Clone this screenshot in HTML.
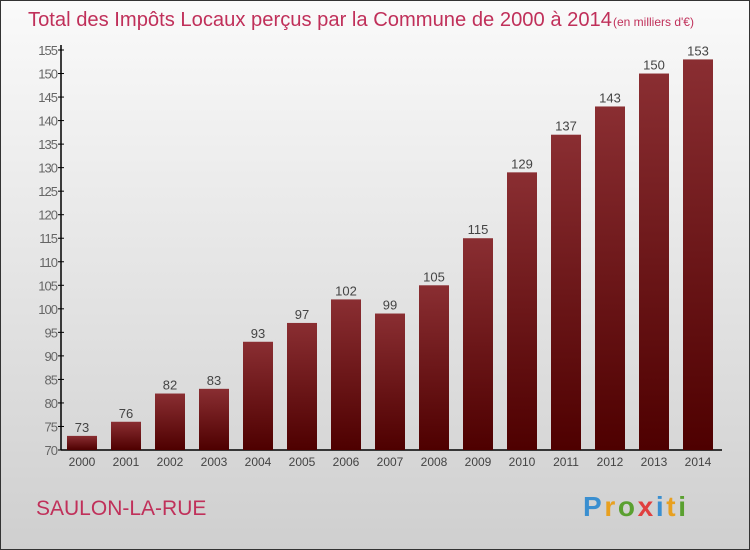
<!DOCTYPE html>
<html><head><meta charset="utf-8"><style>
body{margin:0;width:750px;height:550px;overflow:hidden;font-family:"Liberation Sans",sans-serif}
#c{position:absolute;left:0;top:0;width:748px;height:548px;border:1px solid #333;background:linear-gradient(#fafafa,#cfcfcf)}
</style></head><body>
<div id="c">
<svg width="750" height="550" style="position:absolute;left:-1px;top:-1px">
<defs><linearGradient id="g" x1="0" y1="0" x2="0" y2="1"><stop offset="0" stop-color="#8a2e32"/><stop offset="1" stop-color="#4e0000"/></linearGradient></defs>
<text x="28" y="26" font-size="20" fill="#c0305a" textLength="584" lengthAdjust="spacingAndGlyphs">Total des Impôts Locaux perçus par la Commune de 2000 à 2014</text>
<text x="613" y="26" font-size="12" fill="#c0305a">(en milliers d'€)</text>
<g id="ax"></g><g id="bars"></g>
<text x="36" y="515" font-size="21" fill="#c0305a">SAULON-LA-RUE</text>
<text x="583" y="516" font-size="28" font-weight="bold" textLength="103"><tspan fill="#3a8fd0">P</tspan><tspan fill="#e8a020">r</tspan><tspan fill="#5aa030">o</tspan><tspan fill="#e04040">x</tspan><tspan fill="#3a8fd0">i</tspan><tspan fill="#e8a020">t</tspan><tspan fill="#5aa030">i</tspan></text>
</svg></div>
<script>
const years=["2000","2001","2002","2003","2004","2005","2006","2007","2008","2009","2010","2011","2012","2013","2014"];
const values=[73,76,82,83,93,97,102,99,105,115,129,137,143,150,153];
const ticks=[70,75,80,85,90,95,100,105,110,115,120,125,130,135,140,145,150,155];
const NS="http://www.w3.org/2000/svg";
const y=v=>450-(v-70)*400/85, x=i=>82+i*44;
function mk(t,a,p){const e=document.createElementNS(NS,t);for(const k in a)e.setAttribute(k,a[k]);p.appendChild(e);return e;}
const ax=document.getElementById('ax'),bg=document.getElementById('bars');
let l=mk('line',{x1:61,y1:45,x2:61,y2:450,stroke:'#000','stroke-width':1.5},ax);

l=mk('line',{x1:61,y1:450,x2:722,y2:450,stroke:'#000','stroke-width':1.5},ax);

ticks.forEach(t=>{mk('line',{x1:58,x2:64,y1:y(t),y2:y(t),stroke:'#000'},ax);
const tx=mk('text',{x:57,y:y(t)+5,'text-anchor':'end','font-size':13,fill:'#666','letter-spacing':'-1'},ax);tx.textContent=t;
});
years.forEach((yr,i)=>{const v=values[i];
const r=mk('rect',{x:x(i)-15,y:y(v),width:30,height:450-y(v),fill:'url(#g)'},bg);

const t=mk('text',{x:x(i),y:y(v)-4,'text-anchor':'middle','font-size':13,fill:'#444'},bg);t.textContent=v;

const xl=mk('text',{x:x(i),y:466,'text-anchor':'middle','font-size':12,fill:'#444'},bg);xl.textContent=yr;
});
</script></body></html>
